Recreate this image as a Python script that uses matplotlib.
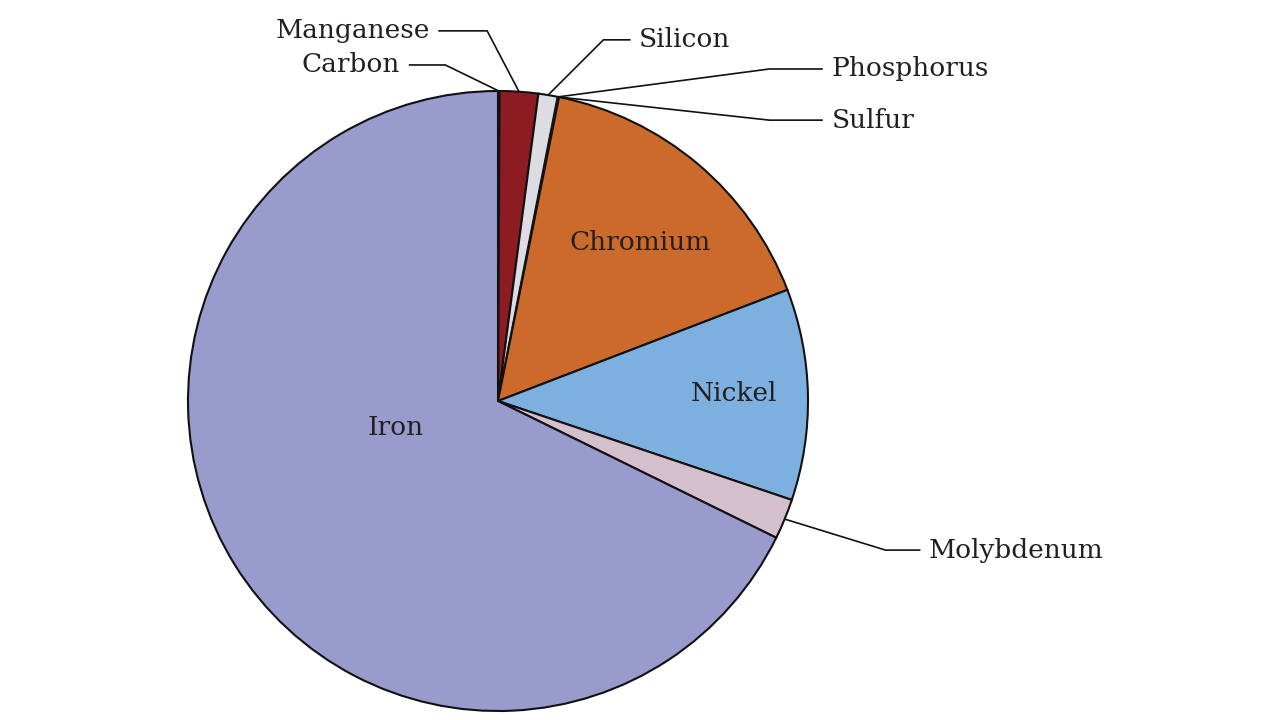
import numpy as np
import matplotlib.pyplot as plt

# composition of stainless steel (percent by mass), clockwise from top
elements = ["Carbon", "Manganese", "Silicon", "Phosphorus", "Sulfur",
            "Chromium", "Nickel", "Molybdenum", "Iron"]
percent = [0.08, 2.0, 1.0, 0.045, 0.03, 16.0, 11.0, 2.1, 67.7]
colors = ["#8c1b22", "#8c1b22", "#dcdce2", "#dcdce2", "#e8c8a0",
          "#cc6a2c", "#7eb0df", "#d4bfcc", "#989bcc"]

# labels placed inside the slice
inside = {"Chromium": (0.46, 0.51), "Nickel": (0.76, 0.025), "Iron": (-0.33, -0.085)}
# labels placed outside with an elbow line: text xy, knee xy, alignment
outside = {
    "Manganese": ((-0.22, 1.194), (-0.035, 1.194), "right"),
    "Carbon": ((-0.315, 1.084), (-0.17, 1.084), "right"),
    "Silicon": ((0.455, 1.165), (0.34, 1.165), "left"),
    "Phosphorus": ((1.075, 1.071), (0.875, 1.071), "left"),
    "Sulfur": ((1.075, 0.906), (0.875, 0.906), "left"),
    "Molybdenum": ((1.39, -0.481), (1.25, -0.481), "left"),
}

txt_color = "#231f20"
plt.rcParams['font.family'] = ['DejaVu Serif']

fig = plt.figure(figsize=(12.8, 7.2), dpi=100)
ax = fig.add_axes([0, 0, 1, 1])

wedges, _ = ax.pie(percent, colors=colors, startangle=90, counterclock=False,
                   radius=1.0, center=(0, 0),
                   wedgeprops=dict(edgecolor="#111111", linewidth=1.5))
# the tiniest slices are only slivers, keep their outlines thin
for w, p in zip(wedges, percent):
    if p < 0.1:
        w.set_linewidth(0.6)

for w, name in zip(wedges, elements):
    if name in inside:
        x, y = inside[name]
        ax.text(x, y, name, ha="center", va="center", fontsize=19, color=txt_color)
    elif name in outside:
        (tx, ty), (kx, ky), ha = outside[name]
        mid = np.deg2rad((w.theta1 + w.theta2) / 2)
        ex, ey = np.cos(mid), np.sin(mid)
        pad = 0.03 if ha == "left" else -0.03
        ax.plot([tx - pad, kx, ex], [ty, ky, ey], color="#111111", lw=1.2,
                solid_joinstyle="miter", zorder=0)
        ax.text(tx, ty, name, ha=ha, va="center", fontsize=19, color=txt_color)

ax.set_xlim(-498 / 310, (1280 - 498) / 310)
ax.set_ylim(-319 / 310, 401 / 310)
ax.set_aspect("equal")
ax.axis("off")

fig.savefig("out.png", dpi=100)
